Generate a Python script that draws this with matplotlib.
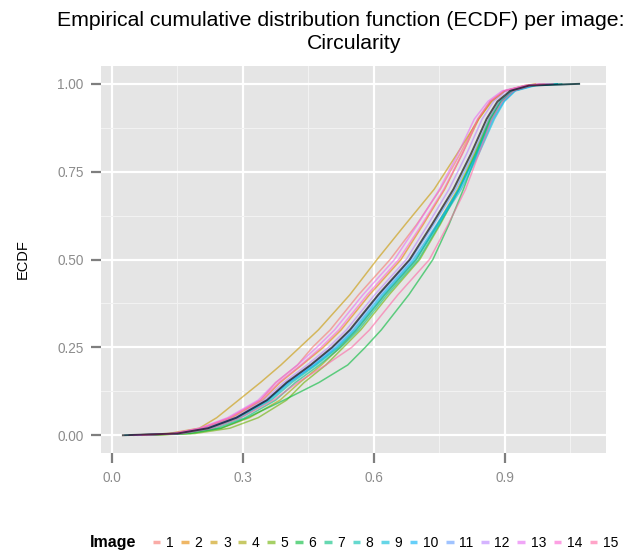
import matplotlib
matplotlib.use("Agg")
import matplotlib.pyplot as plt
from matplotlib.lines import Line2D

plt.rcParams['font.family'] = ['Liberation Sans', 'DejaVu Sans']

levels = [0.0, 0.005, 0.02, 0.05, 0.1, 0.15, 0.2, 0.25, 0.3, 0.4, 0.5,
          0.6, 0.7, 0.8, 0.9, 0.95, 0.98, 0.995, 1.0]

images = [str(i) for i in range(1, 16)]
colors = ["#F8766D", "#E58700", "#C99800", "#A3A500", "#6BB100", "#00BA38",
          "#00BF7D", "#00C0AF", "#00BCD8", "#00B0F6", "#619CFF", "#B983FF",
          "#E76BF3", "#FD61D1", "#FF67A4"]

# circularity at each ECDF level, per image
img1 = [0.06, 0.14, 0.205, 0.27, 0.34, 0.375, 0.425, 0.459, 0.50, 0.565, 0.637, 0.698, 0.752, 0.797, 0.838, 0.866, 0.90, 0.945, 0.98]
img2 = [0.05, 0.15, 0.21, 0.275, 0.345, 0.385, 0.435, 0.484, 0.525, 0.59, 0.662, 0.713, 0.762, 0.802, 0.84, 0.868, 0.90, 0.95, 1.00]
img3 = [0.04, 0.13, 0.20, 0.24, 0.29, 0.34, 0.387, 0.43, 0.473, 0.545, 0.607, 0.672, 0.738, 0.79, 0.84, 0.87, 0.90, 0.945, 0.97]
img4 = [0.08, 0.17, 0.25, 0.315, 0.385, 0.43, 0.48, 0.522, 0.56, 0.625, 0.697, 0.745, 0.792, 0.83, 0.864, 0.888, 0.917, 0.955, 0.99]
img5 = [0.09, 0.19, 0.27, 0.335, 0.40, 0.44, 0.49, 0.53, 0.57, 0.635, 0.705, 0.752, 0.795, 0.832, 0.866, 0.89, 0.918, 0.96, 1.01]
img6 = [0.07, 0.18, 0.25, 0.31, 0.394, 0.474, 0.54, 0.58, 0.617, 0.68, 0.735, 0.772, 0.805, 0.835, 0.868, 0.891, 0.917, 0.96, 1.02]
img7 = [0.05, 0.16, 0.24, 0.305, 0.375, 0.42, 0.475, 0.524, 0.565, 0.63, 0.702, 0.75, 0.795, 0.833, 0.866, 0.89, 0.917, 0.96, 1.00]
img8 = [0.06, 0.16, 0.23, 0.295, 0.365, 0.412, 0.468, 0.519, 0.56, 0.625, 0.697, 0.746, 0.794, 0.834, 0.87, 0.894, 0.92, 0.965, 1.03]
img9 = [0.04, 0.15, 0.225, 0.29, 0.36, 0.407, 0.465, 0.516, 0.557, 0.622, 0.694, 0.748, 0.80, 0.84, 0.876, 0.899, 0.924, 0.97, 1.07]
img10 = [0.03, 0.15, 0.22, 0.285, 0.357, 0.404, 0.462, 0.512, 0.553, 0.618, 0.69, 0.744, 0.796, 0.837, 0.873, 0.897, 0.922, 0.965, 1.02]
img11 = [0.05, 0.15, 0.215, 0.283, 0.355, 0.402, 0.458, 0.507, 0.548, 0.613, 0.685, 0.737, 0.787, 0.827, 0.863, 0.888, 0.915, 0.955, 0.99]
img12 = [0.06, 0.15, 0.215, 0.28, 0.348, 0.393, 0.447, 0.496, 0.537, 0.602, 0.674, 0.724, 0.772, 0.812, 0.848, 0.874, 0.904, 0.95, 1.00]
img13 = [0.05, 0.14, 0.20, 0.265, 0.335, 0.375, 0.425, 0.469, 0.51, 0.575, 0.647, 0.70, 0.75, 0.792, 0.83, 0.861, 0.894, 0.945, 0.98]
img14 = [0.04, 0.14, 0.205, 0.27, 0.34, 0.382, 0.433, 0.479, 0.52, 0.585, 0.657, 0.71, 0.76, 0.802, 0.838, 0.866, 0.898, 0.95, 1.01]
img15 = [0.07, 0.16, 0.23, 0.295, 0.37, 0.425, 0.49, 0.549, 0.59, 0.655, 0.727, 0.77, 0.81, 0.84, 0.87, 0.894, 0.92, 0.96, 0.99]
overall = [0.025, 0.15, 0.22, 0.285, 0.355, 0.40, 0.455, 0.504, 0.545, 0.61, 0.682, 0.733, 0.782, 0.822, 0.858, 0.883, 0.912, 0.955, 1.07]

series = [img1, img2, img3, img4, img5, img6, img7, img8, img9, img10,
          img11, img12, img13, img14, img15]

W, H = 631, 554
fig = plt.figure(figsize=(W / 100, H / 100), dpi=100)
ax = fig.add_axes([0.160, 0.182, 0.800, 0.699])
ax.set_facecolor("#E5E5E5")

for xs, c in zip(series, colors):
    ax.plot(xs, levels, color=c, lw=1.1, alpha=0.6, zorder=3)
ax.plot(overall, levels, color="black", lw=1.4, alpha=0.65, zorder=4)

ax.set_xlim(-0.0252, 1.131)
ax.set_ylim(-0.051, 1.051)
ax.set_xticks([0.0, 0.3, 0.6, 0.9])
ax.set_xticklabels(["0.0", "0.3", "0.6", "0.9"])
ax.set_yticks([0.0, 0.25, 0.5, 0.75, 1.0])
ax.set_yticklabels(["0.00", "0.25", "0.50", "0.75", "1.00"])
ax.set_xticks([0.15, 0.45, 0.75, 1.05], minor=True)
ax.set_yticks([0.125, 0.375, 0.625, 0.875], minor=True)
ax.grid(which="major", color="white", lw=1.6)
ax.grid(which="minor", color="#F2F2F2", lw=0.8)
ax.set_axisbelow(True)
for s in ax.spines.values():
    s.set_visible(False)
ax.tick_params(which="major", length=7.5, width=1.6, color="#7F7F7F",
               labelcolor="#8C8C8C", labelsize=9.8, pad=5)
ax.tick_params(which="minor", length=0)

ax.set_ylabel("ECDF", fontsize=10.5, labelpad=20)

# two-line title; first line runs off the right edge as in the original
fig.text(57 / W, 1 - 26 / H,
         "Empirical cumulative distribution function (ECDF) per image:",
         fontsize=15.3, ha="left", va="baseline")
fig.text(354 / W, 1 - 49 / H, "Circularity", fontsize=15.3,
         ha="center", va="baseline")

# legend along the bottom
handles = [Line2D([], [], color=c, lw=2.5, alpha=0.6, solid_capstyle="butt")
           for c in colors]
fig.text(136 / W, 0.020, "Image", fontsize=11.5, fontweight="bold",
         ha="right", va="center")
fig.legend(handles, images, loc="center left", bbox_to_anchor=(0.222, 0.020),
           ncol=15, frameon=False, handlelength=0.55, handletextpad=0.4,
           columnspacing=0.55, fontsize=10)

fig.savefig("out.png", dpi=100)
